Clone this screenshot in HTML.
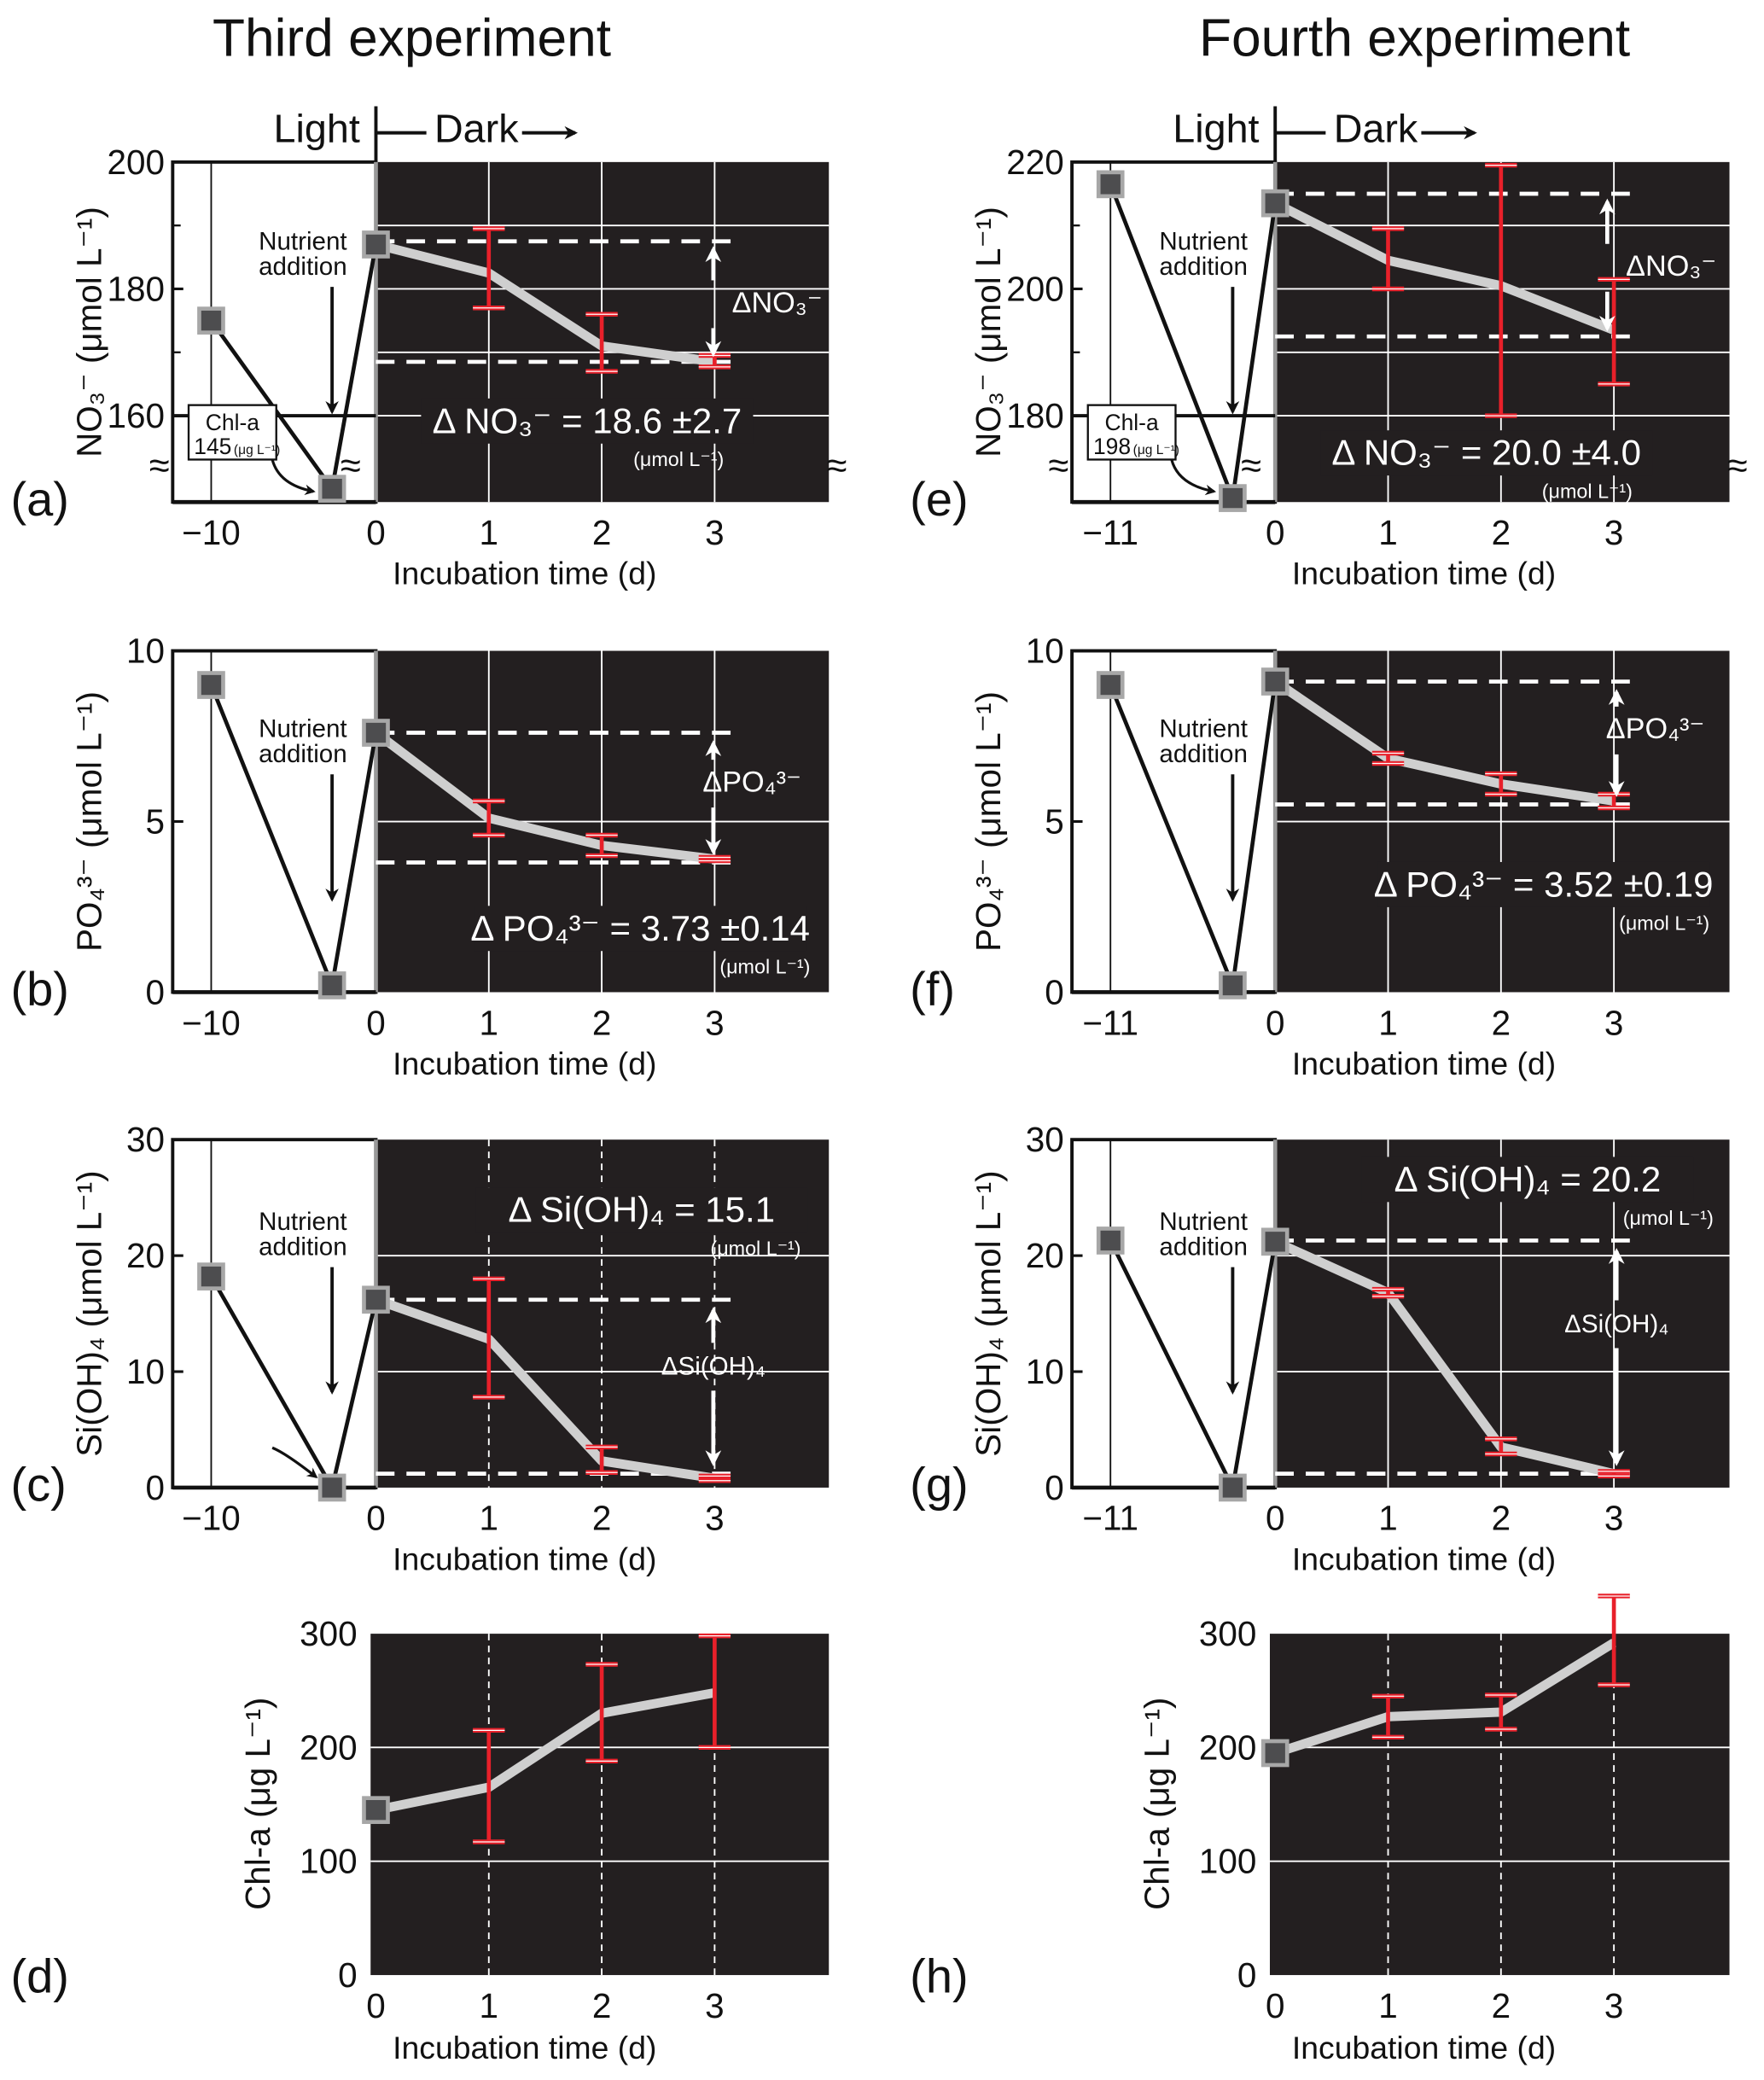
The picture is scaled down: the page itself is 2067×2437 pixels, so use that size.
<!DOCTYPE html>
<html><head><meta charset="utf-8"><style>
html,body{margin:0;padding:0;background:#fff;}
svg{display:block;}
text{font-family:"Liberation Sans",sans-serif;}
</style></head><body>
<svg id="fig" xmlns="http://www.w3.org/2000/svg" width="2067" height="2437" viewBox="0 0 1328 1566" preserveAspectRatio="none">
<defs>
<marker id="ahw" viewBox="0 0 10 10" refX="8" refY="5" markerWidth="4" markerHeight="5" orient="auto"><path d="M0,0 L10,5 L0,10 L3,5 z" fill="#fff"/></marker>
<marker id="ahb" viewBox="0 0 10 10" refX="8" refY="5" markerWidth="4" markerHeight="5" orient="auto"><path d="M0,0 L10,5 L0,10 L3,5 z" fill="#111"/></marker>
</defs>
</svg>
<script>
// ---- data ----
const days=[0,1,2,3];
// Third experiment
const aVals=[187,182.5,171,168.5], aLo=[null,177,167,167.7], aHi=[null,189.5,176,169.5];
const aPre=175, aAdd=5, aDashHi=187.5, aDashLo=168.5;
const bVals=[7.6,5.1,4.3,3.9], bLo=[null,4.6,4.0,3.85], bHi=[null,5.6,4.6,3.95];
const bPre=9.0, bAdd=0.2, bDashHi=7.6, bDashLo=3.8;
const cVals=[16.2,12.8,2.3,0.8], cLo=[null,7.8,1.3,0.6], cHi=[null,18.0,3.5,1.0];
const cPre=18.2, cAdd=0, cDashHi=16.2, cDashLo=1.2;
const dVals=[145,165,230,248], dLo=[null,117,188,200], dHi=[null,215,273,298];
// Fourth experiment
const eVals=[213.5,204.5,200.5,193.5], eLo=[null,200,180,185], eHi=[null,209.5,219.5,201.5];
const ePre=216.5, eAdd=1.5, eDashHi=215, eDashLo=192.5;
const fVals=[9.1,6.85,6.1,5.6], fLo=[null,6.7,5.8,5.4], fHi=[null,7.0,6.4,5.8];
const fPre=9.0, fAdd=0.2, fDashHi=9.1, fDashLo=5.5;
const gVals=[21.2,16.8,3.5,1.2], gLo=[null,16.5,2.9,1.0], gHi=[null,17.1,4.2,1.4];
const gPre=21.3, gAdd=0, gDashHi=21.3, gDashLo=1.2;
const hVals=[195,227,231,292], hLo=[null,209,216,255], hHi=[null,245,246,333];
const nTicksA=[200,180,160], nTicksE=[220,200,180];
const pTicks=[10,5,0], sTicks=[30,20,10,0], chlTicks=[300,200,100,0];

const NS="http://www.w3.org/2000/svg";
const svg=document.getElementById('fig');
function add(tag,attrs,name,txt){
  const el=document.createElementNS(NS,tag);
  for(const k in attrs) el.setAttribute(k,attrs[k]);
  
  
  if(txt!==undefined) el.textContent=txt;
  svg.appendChild(el);
  return el;
}
const DARK="#231f20", RED="#e8202a";
function L(x1,y1,x2,y2,st,w,name,extra){const a={x1:x1,y1:y1,x2:x2,y2:y2,stroke:st,'stroke-width':w};Object.assign(a,extra||{});return add('line',a,name);}
function T(x,y,s,size,name,anchor,fill,extra){const a={x:x,y:y,'font-size':size,'text-anchor':anchor||'start',fill:fill||'#111'};Object.assign(a,extra||{});return add('text',a,name,s);}

function cols(c){return c===0?{left:130,x0:283,right:624,xPre:159,xAdd:250,preLab:'−10',off:0}:{left:807,x0:960,right:1302,xPre:836,xAdd:928,preLab:'−11',off:677};}
const dx=85;

function errbars(C,ym,vals,lo,hi,name){
  for(let i=0;i<days.length;i++){ if(lo[i]==null) continue;
    const x=C.x0+days[i]*dx;
    L(x,ym(lo[i]),x,ym(hi[i]),RED,3,name+'-errbar');
    L(x-12,ym(lo[i]),x+12,ym(lo[i]),RED,3.5,name+'-errcap-low');
    L(x-12,ym(hi[i]),x+12,ym(hi[i]),RED,3.5,name+'-errcap-high');
    L(x-12,ym(lo[i]),x+12,ym(lo[i]),'#fff',0.8,name+'-errcap-low-hl');
    L(x-12,ym(hi[i]),x+12,ym(hi[i]),'#fff',0.8,name+'-errcap-high-hl');
  }
}
function marker(x,y,name){add('rect',{x:x-9,y:y-9,width:18,height:18,fill:'#4d4d4f',stroke:'#a7a7a7','stroke-width':3},name);}
function series(C,ym,vals,name){
  const pts=days.map((d,i)=>(C.x0+d*dx)+','+ym(vals[i])).join(' ');
  add('polyline',{points:pts,fill:'none',stroke:'#cfcfcf','stroke-width':7,'stroke-linejoin':'round'},name+'-line');
}

function nutrientPanel(o){
  const C=cols(o.col), ym=o.ym;
  add('rect',{x:C.left,y:o.top,width:C.x0-C.left,height:o.bot-o.top,fill:'#fff',stroke:'#111','stroke-width':2.5},o.name+'-light-area');
  add('rect',{x:C.x0,y:o.top,width:C.right-C.x0,height:o.bot-o.top,fill:DARK},o.name+'-dark-area');
  L(C.xPre,o.top,C.xPre,o.bot,'#111',1.2,o.name+'-grid-pre');
  o.hgrid.forEach(v=>L(C.x0,ym(v),C.right,ym(v),'#fff',1.2,o.name+'-hgrid'));
  days.slice(1).forEach(d=>L(C.x0+d*dx,o.top,C.x0+d*dx,o.bot,'#fff',1.2,o.name+'-vgrid',o.vdash?{'stroke-dasharray':'5,4'}:{}));
  L(C.x0,o.top,C.x0,o.bot,'#999',3,o.name+'-light-dark-divider');
  L(C.left,o.bot,C.x0,o.bot,'#111',3,o.name+'-x-axis');
  o.ticks.forEach(v=>{L(C.left,ym(v),C.left+8,ym(v),'#111',2,o.name+'-ytick');T(C.left-6,ym(v)+9,String(v),26,o.name+'-ytick-label','end');});
  (o.minor||[]).forEach(v=>L(C.left,ym(v),C.left+6,ym(v),'#111',1.5,o.name+'-ytick-minor'));
  T(C.xPre,o.bot+32,C.preLab,26,o.name+'-xtick-label','middle');
  days.forEach(d=>T(C.x0+d*dx,o.bot+32,String(d),26,o.name+'-xtick-label','middle'));
  T(C.x0+112,o.bot+62,'Incubation time (d)',24,o.name+'-x-axis-title','middle');
  T(C.off+8,o.bot+10,o.letter,36,o.name+'-panel-label');
  T(0,0,o.ytitle,26,o.name+'-y-axis-title','middle','#111',{transform:'translate('+(C.off+76)+','+((o.top+o.bot)/2)+') rotate(-90)'});
  // result background
  add('rect',{x:C.off+o.resX-125,y:o.resY-26,width:250,height:34,fill:DARK},o.name+'-result-bg');
  L(C.x0,ym(o.dHi),C.x0+268,ym(o.dHi),'#fff',3,o.name+'-delta-top-line',{'stroke-dasharray':'14,9'});
  L(C.x0,ym(o.dLo),C.x0+268,ym(o.dLo),'#fff',3,o.name+'-delta-bottom-line',{'stroke-dasharray':'14,9'});
  L(C.xPre,ym(o.pre),C.xAdd,ym(o.add),'#111',3,o.name+'-pre-line');
  L(C.xAdd,ym(o.add),C.x0,ym(o.vals[0]),'#111',3,o.name+'-addition-line');
  series(C,ym,o.vals,o.name);
  errbars(C,ym,o.vals,o.lo,o.hi,o.name);
  marker(C.xPre,ym(o.pre),o.name+'-point-pre');
  marker(C.xAdd,ym(o.add),o.name+'-point-addition');
  marker(C.x0,ym(o.vals[0]),o.name+'-point-day0');
  T(C.xAdd-22,o.naY,'Nutrient',19,o.name+'-nutrient-label','middle');
  T(C.xAdd-22,o.naY+19,'addition',19,o.name+'-nutrient-label','middle');
  L(C.xAdd,o.naY+28,C.xAdd,o.naY+122,'#111',2.5,o.name+'-nutrient-arrow',{'marker-end':'url(#ahb)'});
  const ax=o.arrX+C.off;
  L(ax,o.arrLabY-24,ax,o.arrY1,'#fff',3,o.name+'-delta-arrow-up',{'marker-end':'url(#ahw)'});
  L(ax,o.arrLabY+12,ax,o.arrY2,'#fff',3,o.name+'-delta-arrow-down',{'marker-end':'url(#ahw)'});
  T(ax+o.labDx,o.arrLabY,o.arrLab,o.labSize||22,o.name+'-delta-arrow-label',o.labAnchor||'start','#fff');
  T(C.off+o.resX,o.resY,o.res,27,o.name+'-delta-result','middle','#fff');
  T(C.off+o.unitX,o.resY+25,'(μmol L⁻¹)',15,o.name+'-delta-unit','end','#fff');
}

T(310,42,'Third experiment',40,'title-third','middle');
T(1065,42,'Fourth experiment',40,'title-fourth','middle');

[0,1].forEach(c=>{const C=cols(c);
  L(C.x0,80,C.x0,122,'#111',2.5,'light-dark-header-divider');
  T(C.x0-12,107,'Light',30,'light-label','end');
  L(C.x0,100,C.x0+38,100,'#111',2.5,'dark-header-line');
  T(C.x0+44,107,'Dark',30,'dark-label');
  L(C.x0+110,100,C.x0+150,100,'#111',2.5,'dark-arrow',{'marker-end':'url(#ahb)'});
});

const ymA=v=>v>=150?122+(200-v)*4.775:378-v*2;
const ymE=v=>v>=170?122+(220-v)*4.775:378-v*2;
function nitratePanel(col,ym,letter,name,vals,lo,hi,pre,addv,dh,dl,top,res,chl){
  const C=cols(col);
  const yb=ym(top-40);
  nutrientPanel({col:col,name:name,letter:letter,top:122,bot:378,ym:ym,hgrid:[top-10,top-20,top-30,top-40],vdash:false,ticks:col===0?nTicksA:nTicksE,minor:[top-10,top-30],
    ytitle:'NO₃⁻ (μmol L⁻¹)',vals:vals,lo:lo,hi:hi,pre:pre,add:addv,dHi:dh,dLo:dl,naY:188,
    arrX:col===0?537:533,arrY1:ym(dh)+6,arrY2:ym(dl)-6,arrLabY:(ym(dh)+ym(dl))/2+8,arrLab:'ΔNO₃⁻',labDx:14,
    resX:442,resY:col===0?326:350,res:res,unitX:col===0?545:552});
  L(C.left,yb,C.x0,yb,'#111',2.5,name+'-break-line');
  add('rect',{x:C.left+12,y:305,width:66,height:41,fill:'#fff',stroke:'#111','stroke-width':1.5},name+'-chl-box');
  T(C.left+45,324,'Chl-a',17,name+'-chl-box-label','middle');
  T(C.left+16,342,chl,17,name+'-chl-box-value');
  T(C.left+46,342,'(μg L⁻¹)',10,name+'-chl-box-unit');
  add('path',{d:'M'+(C.left+75)+',346 Q'+(C.left+80)+',365 '+(C.xAdd-14)+',370',fill:'none',stroke:'#111','stroke-width':2,'marker-end':'url(#ahb)'},name+'-chl-arrow');
  ['break-left','break-mid','break-right'].forEach((n,i)=>{
    const x=[C.left-10,C.xAdd+14,C.right+6][i];
    T(x,360,'≈',28,name+'-'+n,'middle');
  });
}
nitratePanel(0,ymA,'(a)','panel-a',aVals,aLo,aHi,aPre,aAdd,aDashHi,aDashLo,200,'Δ NO₃⁻  = 18.6 ±2.7','145');
nitratePanel(1,ymE,'(e)','panel-e',eVals,eLo,eHi,ePre,eAdd,eDashHi,eDashLo,220,'Δ NO₃⁻  = 20.0 ±4.0','198');

const ymB=v=>747-v*25.7;
nutrientPanel({col:0,name:'panel-b',letter:'(b)',top:490,bot:747,ym:ymB,hgrid:[5],vdash:false,ticks:pTicks,ytitle:'PO₄³⁻ (μmol L⁻¹)',
  vals:bVals,lo:bLo,hi:bHi,pre:bPre,add:bAdd,dHi:bDashHi,dLo:bDashLo,naY:555,arrX:537,arrY1:ymB(bDashHi)+8,arrY2:ymB(bDashLo)-8,arrLabY:596,arrLab:'ΔPO₄³⁻',labDx:-8,
  resX:482,resY:708,res:'Δ PO₄³⁻  = 3.73 ±0.14',unitX:610});
nutrientPanel({col:1,name:'panel-f',letter:'(f)',top:490,bot:747,ym:ymB,hgrid:[5],vdash:false,ticks:pTicks,ytitle:'PO₄³⁻ (μmol L⁻¹)',
  vals:fVals,lo:fLo,hi:fHi,pre:fPre,add:fAdd,dHi:fDashHi,dLo:fDashLo,naY:555,arrX:540,arrY1:ymB(fDashHi)+8,arrY2:ymB(fDashLo)-8,arrLabY:556,arrLab:'ΔPO₄³⁻',labDx:-8,
  resX:485,resY:675,res:'Δ PO₄³⁻  = 3.52 ±0.19',unitX:610});

const ymC=v=>1120-v*8.733;
nutrientPanel({col:0,name:'panel-c',letter:'(c)',top:858,bot:1120,ym:ymC,hgrid:[10,20],vdash:true,ticks:sTicks,ytitle:'Si(OH)₄ (μmol L⁻¹)',
  vals:cVals,lo:cLo,hi:cHi,pre:cPre,add:cAdd,dHi:cDashHi,dLo:cDashLo,naY:926,arrX:537,arrY1:ymC(cDashHi)+8,arrY2:ymC(cDashLo)-8,arrLabY:1035,arrLab:'ΔSi(OH)₄',labDx:0,labAnchor:'middle',labSize:19,
  resX:483,resY:920,res:'Δ Si(OH)₄ = 15.1',unitX:603});
nutrientPanel({col:1,name:'panel-g',letter:'(g)',top:858,bot:1120,ym:ymC,hgrid:[10,20],vdash:false,ticks:sTicks,ytitle:'Si(OH)₄ (μmol L⁻¹)',
  vals:gVals,lo:gLo,hi:gHi,pre:gPre,add:gAdd,dHi:gDashHi,dLo:gDashLo,naY:926,arrX:540,arrY1:ymC(gDashHi)+8,arrY2:ymC(gDashLo)-8,arrLabY:1003,arrLab:'ΔSi(OH)₄',labDx:0,labAnchor:'middle',labSize:19,
  resX:473,resY:897,res:'Δ Si(OH)₄ = 20.2',unitX:613});
add('path',{d:'M205,1090 Q215,1094 238,1112',fill:'none',stroke:'#111','stroke-width':2,'marker-end':'url(#ahb)'},'panel-c-small-arrow');

const ymD=v=>1487-v*0.857;
function chlPanel(col,name,letter,vals,lo,hi){
  const C=cols(col);
  add('rect',{x:C.x0-4,y:1230,width:C.right-C.x0+4,height:257,fill:DARK},name+'-plot-area');
  [100,200].forEach(v=>L(C.x0-4,ymD(v),C.right,ymD(v),'#fff',1.2,name+'-hgrid'));
  days.slice(1).forEach(d=>L(C.x0+d*dx,1230,C.x0+d*dx,1487,'#fff',1.2,name+'-vgrid',{'stroke-dasharray':'5,4'}));
  chlTicks.forEach(v=>T(C.x0-14,ymD(v)+9,String(v),26,name+'-ytick-label','end'));
  days.forEach(d=>T(C.x0+d*dx,1519,String(d),26,name+'-xtick-label','middle'));
  T(C.x0+112,1550,'Incubation time (d)',24,name+'-x-axis-title','middle');
  T(C.off+8,1500,letter,36,name+'-panel-label');
  T(0,0,'Chl-a (μg L⁻¹)',26,name+'-y-axis-title','middle','#111',{transform:'translate('+(C.off+203)+',1358) rotate(-90)'});
  series(C,ymD,vals,name);
  errbars(C,ymD,vals,lo,hi,name);
  marker(C.x0,ymD(vals[0]),name+'-point-day0');
}
chlPanel(0,'panel-d','(d)',dVals,dLo,dHi);
chlPanel(1,'panel-h','(h)',hVals,hLo,hHi);
</script>
</body></html>
